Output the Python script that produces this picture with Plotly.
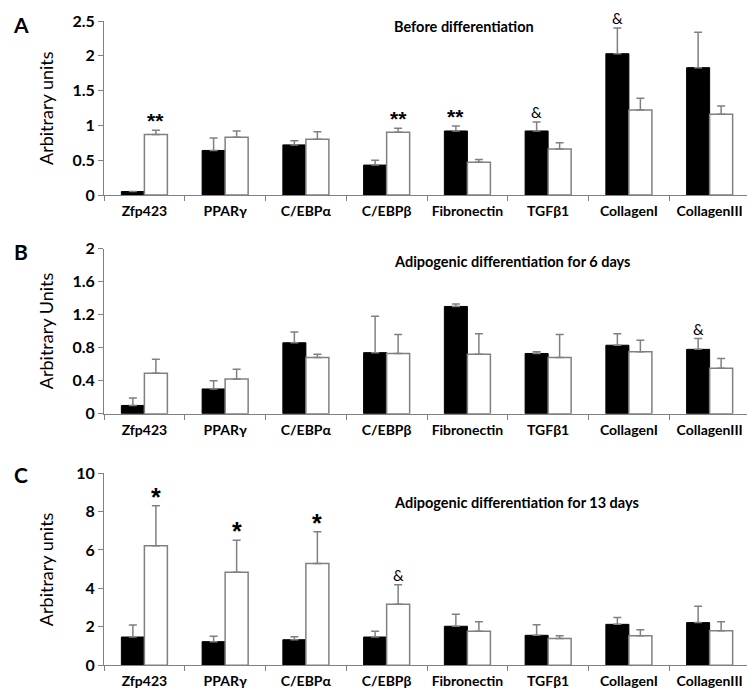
import plotly.graph_objects as go

categories = ["Zfp423", "PPARγ", "C/EBPα", "C/EBPβ", "Fibronectin", "TGFβ1", "CollagenI", "CollagenIII"]

# Panel A: Before differentiation
a_black = [0.05, 0.64, 0.72, 0.43, 0.92, 0.92, 2.03, 1.83]
a_black_err = [0.0, 0.18, 0.06, 0.07, 0.07, 0.13, 0.37, 0.51]
a_white = [0.87, 0.83, 0.80, 0.90, 0.47, 0.66, 1.22, 1.16]
a_white_err = [0.06, 0.09, 0.11, 0.06, 0.04, 0.09, 0.17, 0.12]

# Panel B: Adipogenic differentiation for 6 days
b_black = [0.10, 0.30, 0.86, 0.74, 1.30, 0.73, 0.83, 0.78]
b_black_err = [0.09, 0.10, 0.13, 0.44, 0.03, 0.02, 0.14, 0.13]
b_white = [0.49, 0.42, 0.68, 0.73, 0.72, 0.68, 0.75, 0.55]
b_white_err = [0.17, 0.12, 0.04, 0.23, 0.25, 0.28, 0.14, 0.12]

# Panel C: Adipogenic differentiation for 13 days
c_black = [1.47, 1.23, 1.33, 1.47, 2.03, 1.56, 2.13, 2.22]
c_black_err = [0.63, 0.28, 0.16, 0.30, 0.62, 0.55, 0.35, 0.85]
c_white = [6.22, 4.84, 5.29, 3.17, 1.77, 1.39, 1.54, 1.80]
c_white_err = [2.08, 1.66, 1.66, 1.02, 0.50, 0.15, 0.31, 0.47]

# significance marks: (category index, series, text)
a_marks = [(0, "w", "**"), (3, "w", "**"), (4, "b", "**"), (5, "b", "&"), (6, "b", "&")]
b_marks = [(7, "b", "&")]
c_marks = [(0, "w", "*"), (1, "w", "*"), (2, "w", "*"), (3, "w", "&")]

a_ticks = [0, 0.5, 1, 1.5, 2, 2.5]
a_ticktext = ["0", "0.5", "1", "1.5", "2", "2.5"]
b_ticks = [0, 0.4, 0.8, 1.2, 1.6, 2.0]
b_ticktext = ["0", "0.4", "0.8", "1.2", "1.6", "2"]
c_ticks = [0, 2, 4, 6, 8, 10]
c_ticktext = ["0", "2", "4", "6", "8", "10"]

titles = ["Before differentiation", "Adipogenic differentiation for 6 days",
          "Adipogenic differentiation for 13 days"]
ytitles = ["Arbitrary units", "Arbitrary Units", "Arbitrary units"]
letters = ["A", "B", "C"]

W, H = 755, 691
FONT = "Lato"
GRAY = "#808080"

# panel pixel geometry (top, bottom) in screen px
panels_px = [(13, 187), (240.7, 405.7), (465, 657.3)]
x_px = (96, 742)

fig = go.Figure()

data = [
    (a_black, a_black_err, a_white, a_white_err, a_marks, a_ticks, a_ticktext, 2.5),
    (b_black, b_black_err, b_white, b_white_err, b_marks, b_ticks, b_ticktext, 2.0),
    (c_black, c_black_err, c_white, c_white_err, c_marks, c_ticks, c_ticktext, 10),
]

layout_axes = {}
annotations = []
for i, (bk, bke, wh, whe, marks, tv, tt, ymax) in enumerate(data):
    n = "" if i == 0 else str(i + 1)
    xa, ya = "x" + n, "y" + n
    fig.add_trace(go.Bar(
        x=categories, y=bk, xaxis=xa, yaxis=ya, showlegend=False,
        marker=dict(color="#000000", line=dict(color="#000000", width=1)),
        error_y=dict(type="data", array=bke, arrayminus=[0] * len(bke), symmetric=False,
                     color=GRAY, thickness=1.5, width=4),
        offsetgroup="b",
    ))
    fig.add_trace(go.Bar(
        x=categories, y=wh, xaxis=xa, yaxis=ya, showlegend=False,
        marker=dict(color="#ffffff", line=dict(color=GRAY, width=1.5)),
        error_y=dict(type="data", array=whe, arrayminus=[0] * len(whe), symmetric=False,
                     color=GRAY, thickness=1.5, width=4),
        offsetgroup="w",
    ))
    top, bot = panels_px[i]
    layout_axes["xaxis" + n] = dict(
        domain=[x_px[0] / W, x_px[1] / W], anchor=ya, type="category",
        range=[-0.5, 7.5], showline=True, linecolor=GRAY, linewidth=1,
        ticks="outside", tickson="boundaries", ticklen=5, tickcolor=GRAY,
        tickangle=0, ticklabelstandoff=3,
        tickfont=dict(family=FONT, size=14, color="black", weight="bold"),
        showgrid=False, zeroline=False, automargin=False, fixedrange=True,
    )
    layout_axes["yaxis" + n] = dict(
        domain=[1 - bot / H, 1 - top / H], anchor=xa, range=[0, ymax],
        showline=True, linecolor=GRAY, linewidth=1, ticks="outside", ticklen=5,
        tickcolor=GRAY, tickvals=tv, ticktext=tt,
        tickfont=dict(family=FONT, size=16, color="black", weight="bold"),
        showgrid=False, zeroline=False, automargin=False, fixedrange=True,
    )
    # titles
    title_y = [19, 253, 494][i]
    annotations.append(dict(text=titles[i], x=384 / W, y=1 - title_y / H, xref="paper", yref="paper",
                            xanchor="left", yanchor="middle", showarrow=False,
                            font=dict(family=FONT, size=14.5, color="black", weight="bold")))
    annotations.append(dict(text=ytitles[i], x=38 / W, y=1 - ((top + bot) / 2) / H, xref="paper", yref="paper",
                            xanchor="center", yanchor="middle", showarrow=False, textangle=-90,
                            font=dict(family=FONT, size=18, color="black")))
    letter_y = [17, 243, 467][i]
    annotations.append(dict(text=letters[i], x=13 / W, y=1 - letter_y / H, xref="paper", yref="paper",
                            xanchor="center", yanchor="middle", showarrow=False,
                            font=dict(family=FONT, size=21, color="black", weight="bold")))
    for (ci, s, txt) in marks:
        if s == "b":
            yv = bk[ci] + bke[ci]
            xs = -11.5
        else:
            yv = wh[ci] + whe[ci]
            xs = 11.5
        if txt == "**":
            fnt = dict(family="Liberation Sans", size=21, color="black", weight="bold")
            ysh = 10
        elif txt == "*":
            fnt = dict(family="Liberation Sans", size=25, color="black", weight="bold")
            ysh = 9
        else:
            fnt = dict(family=FONT, size=15, color="black")
            ysh = 10
        annotations.append(dict(text=txt, x=categories[ci], y=yv, xref=xa, yref=ya,
                                xanchor="center", yanchor="middle", showarrow=False,
                                xshift=xs, yshift=ysh, font=fnt, borderpad=0))

fig.update_layout(
    width=W, height=H, margin=dict(l=0, r=0, t=0, b=0),
    paper_bgcolor="white", plot_bgcolor="white",
    barmode="group", bargap=0.43, bargroupgap=0,
    annotations=annotations, showlegend=False,
    **layout_axes,
)

fig.write_html("out.html")
